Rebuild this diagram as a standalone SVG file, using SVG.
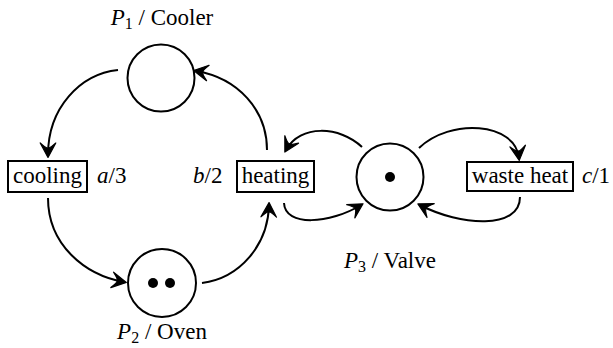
<svg xmlns="http://www.w3.org/2000/svg" width="613" height="348" viewBox="0 0 613 348">
<style>
.place{fill:#fff;stroke:#000;stroke-width:2}
.trans{fill:#fff;stroke:#000;stroke-width:2}
.t{font-family:'Liberation Serif','Times New Roman',serif;font-size:23px;fill:#000}
.i{font-style:italic}
.sub{font-size:16px}
.arc{fill:none;stroke:#000;stroke-width:2;marker-end:url(#ah)}
.tok{fill:#000}
</style>
<defs>
<marker id="ah" markerUnits="userSpaceOnUse" markerWidth="24" markerHeight="24" viewBox="-14 -10 20 20" refX="0" refY="0" orient="auto">
<path d="M2,0 L-10,-6.5 Q-5,-1 -6,0 Q-5,1 -10,6.5 Z" fill="#000" stroke="#000" stroke-width="1" stroke-linejoin="round"/>
</marker>
</defs>
<rect width="613" height="348" fill="#fff"/>
<g id="connectors">
<path class="arc" d="M118,70 C80,74 48,108 48,155"/>
<path class="arc" d="M267,150 C267,110 238,78 196,71"/>
<path class="arc" d="M48,198 C48,245 85,275 124,282"/>
<path class="arc" d="M202,283 C240,278 268,245 269,205"/>
<path class="arc" d="M362,147 C340,126 300,124 286,150"/>
<path class="arc" d="M284,203 C285,227 330,224 361,205"/>
<path class="arc" d="M419,148 C450,118 515,122 519,158"/>
<path class="arc" d="M520,197 C520,230 460,226 420,205"/>
</g>
<g id="P1">
<circle class="place" cx="161" cy="78" r="33.5"/>
<text class="t" x="162" y="25" text-anchor="middle"><tspan class="i">P</tspan><tspan class="sub" dy="4">1</tspan><tspan dy="-4"> / Cooler</tspan></text>
</g>
<g id="P2">
<circle class="place" cx="162" cy="283" r="34"/>
<circle class="tok" cx="153" cy="283" r="5"/>
<circle class="tok" cx="170" cy="283" r="5"/>
<text class="t" x="162" y="339" text-anchor="middle"><tspan class="i">P</tspan><tspan class="sub" dy="4">2</tspan><tspan dy="-4"> / Oven</tspan></text>
</g>
<g id="P3">
<circle class="place" cx="390" cy="177" r="33.5"/>
<circle class="tok" cx="390" cy="177" r="5"/>
<text class="t" x="390" y="268" text-anchor="middle"><tspan class="i">P</tspan><tspan class="sub" dy="4">3</tspan><tspan dy="-4"> / Valve</tspan></text>
</g>
<g id="cooling">
<rect class="trans" x="8" y="161" width="79" height="31"/>
<text class="t" x="47.5" y="183" text-anchor="middle">cooling</text>
<text class="t" x="97" y="183"><tspan class="i">a</tspan>/3</text>
</g>
<g id="heating">
<rect class="trans" x="237" y="161" width="77" height="31"/>
<text class="t" x="275.5" y="183" text-anchor="middle">heating</text>
<text class="t" x="193" y="183"><tspan class="i">b</tspan>/2</text>
</g>
<g id="wasteheat">
<rect class="trans" x="467" y="162" width="106" height="29"/>
<text class="t" x="520" y="183" text-anchor="middle">waste heat</text>
<text class="t" x="582" y="183"><tspan class="i">c</tspan>/1</text>
</g>
</svg>
